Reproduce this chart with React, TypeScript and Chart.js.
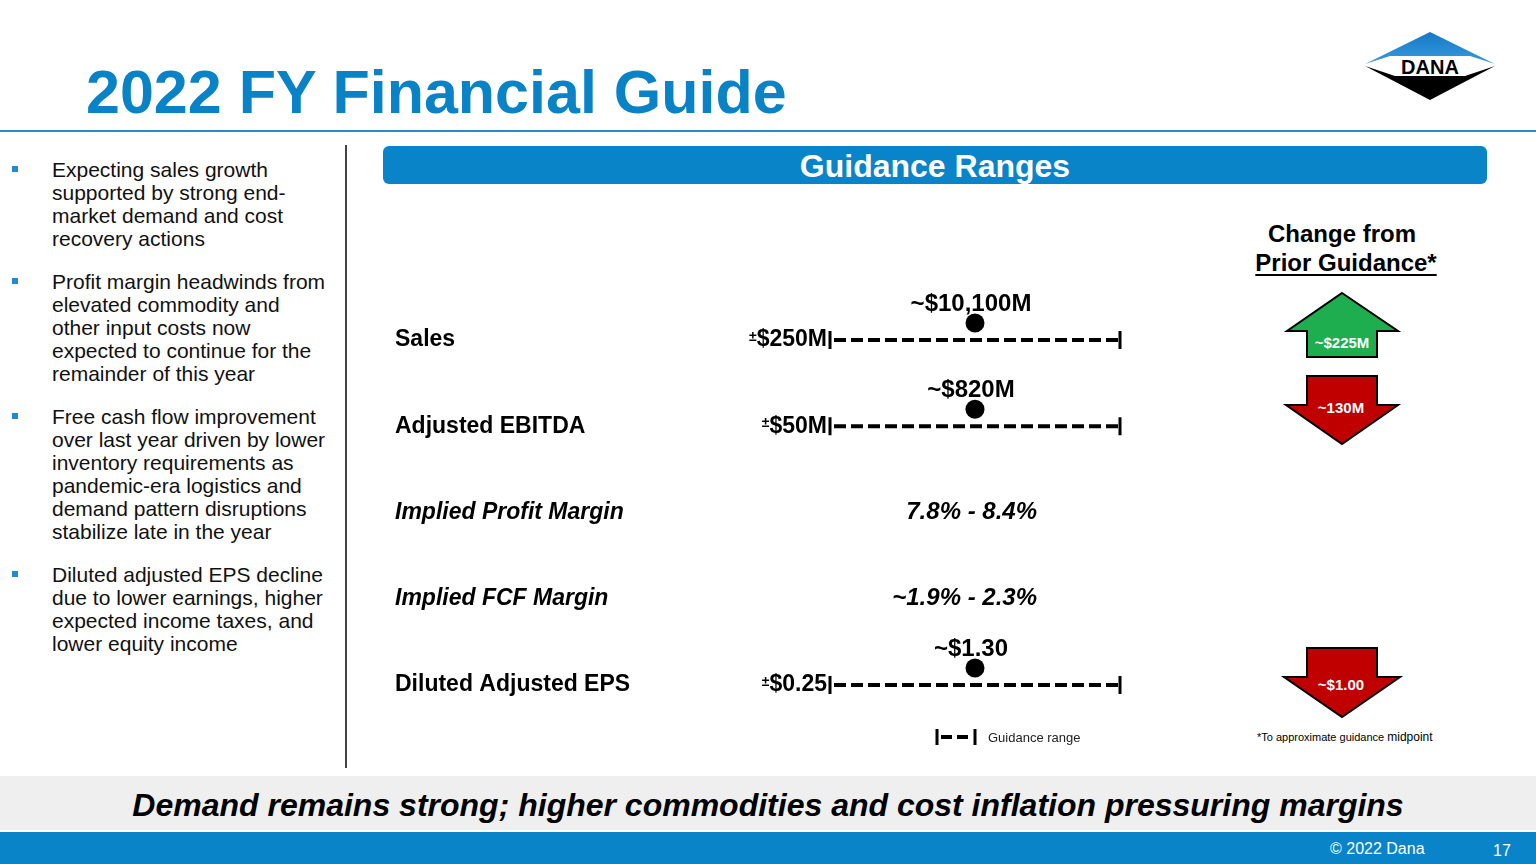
import React, { useEffect, useRef } from 'react';
import { Chart, registerables } from 'chart.js';

Chart.register(...registerables);

const FONT = '"Liberation Sans", Arial, Helvetica, sans-serif';

// ---------- data ----------
const metrics = ['Sales', 'Adjusted EBITDA', 'Implied Profit Margin', 'Implied FCF Margin', 'Diluted Adjusted EPS'];
const guidanceMid: (number | null)[] = [10100, 820, null, null, 1.3];
const guidanceRange: (number | null)[] = [250, 50, null, null, 0.25];
const midLabels = ['~$10,100M', '~$820M', '', '', '~$1.30'];
const rangeLabels = ['$250M', '$50M', '', '', '$0.25'];
const marginLabels = ['', '', '7.8% - 8.4%', '~1.9% - 2.3%', ''];
const changeFromPrior: (number | null)[] = [225, -130, null, null, -1.0];
const changeLabels = ['~$225M', '~130M', '', '', '~$1.00'];

const bullets: string[][] = [
  ['Expecting sales growth', 'supported by strong end-', 'market demand and cost', 'recovery actions'],
  ['Profit margin headwinds from', 'elevated commodity and', 'other input costs now', 'expected to continue for the', 'remainder of this year'],
  ['Free cash flow improvement', 'over last year driven by lower', 'inventory requirements as', 'pandemic-era logistics and', 'demand pattern disruptions', 'stabilize late in the year'],
  ['Diluted adjusted EPS decline', 'due to lower earnings, higher', 'expected income taxes, and', 'lower equity income'],
];

// ---------- layout ----------
const BLUE = '#0A83C6';
const arrowTops: Record<number, number> = { 0: 292, 1: 375, 4: 647 };

const toNorm = (i: number, v: number) => {
  const mid = guidanceMid[i] as number;
  const r = guidanceRange[i] as number;
  return (v - (mid - r)) / (2 * r);
};

const annotPlugin = {
  id: 'guideAnnot',
  afterDatasetsDraw(chart: any) {
    const { ctx, scales } = chart;
    const x = scales.x;
    const y = scales.y;
    ctx.save();
    ctx.fillStyle = '#000';
    ctx.textBaseline = 'middle';
    metrics.forEach((m, i) => {
      const py = y.getPixelForValue(i);
      if (guidanceMid[i] != null) {
        const px = x.getPixelForValue(toNorm(i, guidanceMid[i] as number));
        ctx.beginPath();
        ctx.arc(px, py - 17, 9.5, 0, Math.PI * 2);
        ctx.fill();
        ctx.textAlign = 'center';
        ctx.font = `bold 24px ${FONT}`;
        ctx.fillText(midLabels[i], px - 4, py - 36);
        const lx = x.getPixelForValue(0) - 3;
        ctx.textAlign = 'right';
        ctx.font = `bold 23px ${FONT}`;
        ctx.fillText(rangeLabels[i], lx, py);
        const w = ctx.measureText(rangeLabels[i]).width;
        ctx.font = `bold 14px ${FONT}`;
        ctx.fillText('±', lx - w, py - 3);
      } else if (marginLabels[i]) {
        ctx.textAlign = 'right';
        ctx.font = `italic bold 24px ${FONT}`;
        ctx.fillText(marginLabels[i], x.getPixelForValue(0.5) + 62, py);
      }
    });
    // legend "|--| Guidance range"
    const lx = x.getPixelForValue(0.5) - 38;
    const ly = chart.chartArea.bottom + 52;
    ctx.strokeStyle = '#000';
    ctx.lineWidth = 3;
    ctx.beginPath();
    ctx.moveTo(lx, ly - 8);
    ctx.lineTo(lx, ly + 8);
    ctx.moveTo(lx + 38, ly - 8);
    ctx.lineTo(lx + 38, ly + 8);
    ctx.stroke();
    ctx.lineWidth = 4;
    ctx.setLineDash([11, 5]);
    ctx.beginPath();
    ctx.moveTo(lx + 4, ly);
    ctx.lineTo(lx + 31, ly);
    ctx.stroke();
    ctx.setLineDash([]);
    ctx.textAlign = 'left';
    ctx.fillStyle = '#222';
    ctx.font = `13px ${FONT}`;
    ctx.fillText('Guidance range', lx + 51, ly + 1);
    ctx.restore();
  },
};

function T(props: {
  x: number; y: number; size: number; bold?: boolean; italic?: boolean;
  align?: 'left' | 'center'; color?: string; underline?: boolean; children: React.ReactNode;
}) {
  const { x, y, size, bold, italic, align = 'left', color = '#000', underline, children } = props;
  return (
    <div
      style={{
        position: 'absolute',
        left: x,
        top: y - size / 2,
        fontSize: size,
        lineHeight: `${size}px`,
        fontWeight: bold ? 'bold' : 'normal',
        fontStyle: italic ? 'italic' : 'normal',
        color,
        whiteSpace: 'nowrap',
        transform: align === 'center' ? 'translateX(-50%)' : undefined,
        textDecoration: underline ? 'underline' : undefined,
        textUnderlineOffset: underline ? 3 : undefined,
        textDecorationThickness: underline ? 2 : undefined,
      }}
    >
      {children}
    </div>
  );
}

function ChangeArrow({ i }: { i: number }) {
  const v = changeFromPrior[i] as number;
  const top = arrowTops[i];
  const up = v > 0;
  const pts = up
    ? '60,1 116,39 95,39 95,65 25,65 25,39 5,39'
    : i === 4
      ? '25,1 95,1 95,30 118,30 60,70 2,30 25,30'
      : '25,1 95,1 95,30 116,30 60,69 4,30 25,30';
  const ty = up ? 50 : i === 4 ? 37 : 32;
  return (
    <svg
      width={120}
      height={72}
      style={{ position: 'absolute', left: 1282, top, overflow: 'visible' }}
    >
      <polygon points={pts} fill={up ? '#1FAE4F' : '#C00000'} stroke="#000" strokeWidth={2} />
      <text
        x={up ? 60 : 59}
        y={ty}
        textAnchor="middle"
        dominantBaseline="central"
        fill="#fff"
        fontFamily={FONT}
        fontWeight="bold"
        fontSize={15}
      >
        {changeLabels[i]}
      </text>
    </svg>
  );
}

export default function App() {
  const ref = useRef<HTMLCanvasElement>(null);

  useEffect(() => {
    const canvas = ref.current as HTMLCanvasElement;
    const datasets: any[] = [];
    metrics.forEach((m, i) => {
      if (guidanceMid[i] == null) return;
      const lo = (guidanceMid[i] as number) - (guidanceRange[i] as number);
      const hi = (guidanceMid[i] as number) + (guidanceRange[i] as number);
      datasets.push({
        label: m,
        data: [
          { x: toNorm(i, lo), y: m },
          { x: toNorm(i, hi), y: m },
        ],
        showLine: true,
        borderColor: '#000',
        borderWidth: 4,
        borderDash: [12, 5],
        borderDashOffset: 13,
        borderCapStyle: 'butt',
        pointStyle: 'line',
        rotation: 90,
        pointRadius: 9,
        pointBorderWidth: 3,
        pointBorderColor: '#000',
        pointBackgroundColor: '#000',
        clip: false,
      });
    });

    const chart = new Chart(canvas, {
      type: 'scatter',
      data: { labels: metrics, datasets },
      options: {
        animation: false,
        responsive: false,
        maintainAspectRatio: false,
        events: [],
        layout: { padding: { top: 60, bottom: 75, left: 0, right: 115 } },
        plugins: { legend: { display: false }, tooltip: { enabled: false } },
        scales: {
          x: { type: 'linear', min: -1 / 58, max: 1 + 1 / 58, display: false },
          y: {
            type: 'category',
            labels: metrics,
            offset: false,
            grid: { display: false },
            border: { display: false },
            afterFit: (s: any) => {
              s.width = 430;
            },
            ticks: {
              autoSkip: false,
              crossAlign: 'far',
              padding: 0,
              color: '#000',
              font: (c: any) => ({
                family: FONT,
                size: 23,
                weight: 'bold',
                style: guidanceMid[c.index] == null ? 'italic' : 'normal',
              }),
            },
          },
        },
      } as any,
      plugins: [annotPlugin],
    });
    return () => chart.destroy();
  }, []);

  const paraTops = [158, 270, 405, 563];

  return (
    <div
      style={{
        position: 'fixed',
        left: 0,
        top: 0,
        width: 1536,
        height: 864,
        background: '#fff',
        overflow: 'hidden',
        fontFamily: FONT,
      }}
    >
      {/* title */}
      <div
        style={{
          position: 'absolute',
          left: 86,
          top: 62,
          fontSize: 61,
          lineHeight: '61px',
          fontWeight: 'bold',
          color: BLUE,
          whiteSpace: 'nowrap',
        }}
      >
        2022 FY Financial Guide
      </div>
      <div style={{ position: 'absolute', left: 0, top: 130, width: 1536, height: 2, background: '#2B8BC8' }} />

      {/* logo */}
      <svg width={140} height={80} style={{ position: 'absolute', left: 1360, top: 26 }}>
        <defs>
          <linearGradient id="lg" x1="0" y1="0" x2="0" y2="1">
            <stop offset="0" stopColor="#1479C6" />
            <stop offset="1" stopColor="#3A9BDD" />
          </linearGradient>
        </defs>
        <polygon points="5,38 70,6 135,38 110,30 30,30" fill="url(#lg)" />
        <polygon points="5,40 35,50 105,50 135,40 70,74" fill="#000" />
        <text x={70} y={41} textAnchor="middle" dominantBaseline="central" fontFamily={FONT} fontWeight="bold" fontSize={20} fill="#000">
          DANA
        </text>
      </svg>

      {/* left bullets */}
      {bullets.map((lines, p) => (
        <div key={p} style={{ position: 'absolute', left: 0, top: paraTops[p] }}>
          <div style={{ position: 'absolute', left: 12, top: 8, width: 6, height: 6, background: '#1F8BD3' }} />
          <div style={{ position: 'absolute', left: 52, top: 0, fontSize: 21, lineHeight: '23px', color: '#111', whiteSpace: 'nowrap' }}>
            {lines.map((l, k) => (
              <div key={k}>{l}</div>
            ))}
          </div>
        </div>
      ))}
      <div style={{ position: 'absolute', left: 345, top: 145, width: 2, height: 623, background: '#444' }} />

      {/* banner */}
      <div
        style={{
          position: 'absolute',
          left: 383,
          top: 146,
          width: 1104,
          height: 38,
          borderRadius: 6,
          background: '#0A84C8',
        }}
      />
      <T x={935} y={166} size={32} bold align="center" color="#fff">
        Guidance Ranges
      </T>

      {/* change header */}
      <T x={1342} y={234} size={24} bold align="center">
        Change from
      </T>
      <T x={1346} y={263} size={24} bold align="center" underline>
        Prior Guidance*
      </T>

      {changeFromPrior.map((v, i) => (v == null ? null : <ChangeArrow key={i} i={i} />))}

      {/* chart */}
      <canvas
        ref={ref}
        width={845}
        height={480}
        style={{ position: 'absolute', left: 395, top: 280, width: 845, height: 480 }}
      />

      {/* footnote */}
      <div style={{ position: 'absolute', left: 1257, top: 730, fontSize: 11, lineHeight: '14px', color: '#000', whiteSpace: 'nowrap' }}>
        *To approximate guidance <span style={{ fontSize: 12 }}>midpoint</span>
      </div>

      {/* bottom band */}
      <div style={{ position: 'absolute', left: 0, top: 776, width: 1536, height: 54, background: '#EFEFEF' }} />
      <T x={768} y={805} size={32} bold italic align="center">
        Demand remains strong; higher commodities and cost inflation pressuring margins
      </T>
      <div style={{ position: 'absolute', left: 0, top: 832, width: 1536, height: 32, background: '#0A84C8' }} />
      <T x={1330} y={849} size={16} color="#fff">
        © 2022 Dana
      </T>
      <T x={1493} y={851} size={16} color="#fff">
        17
      </T>
    </div>
  );
}
